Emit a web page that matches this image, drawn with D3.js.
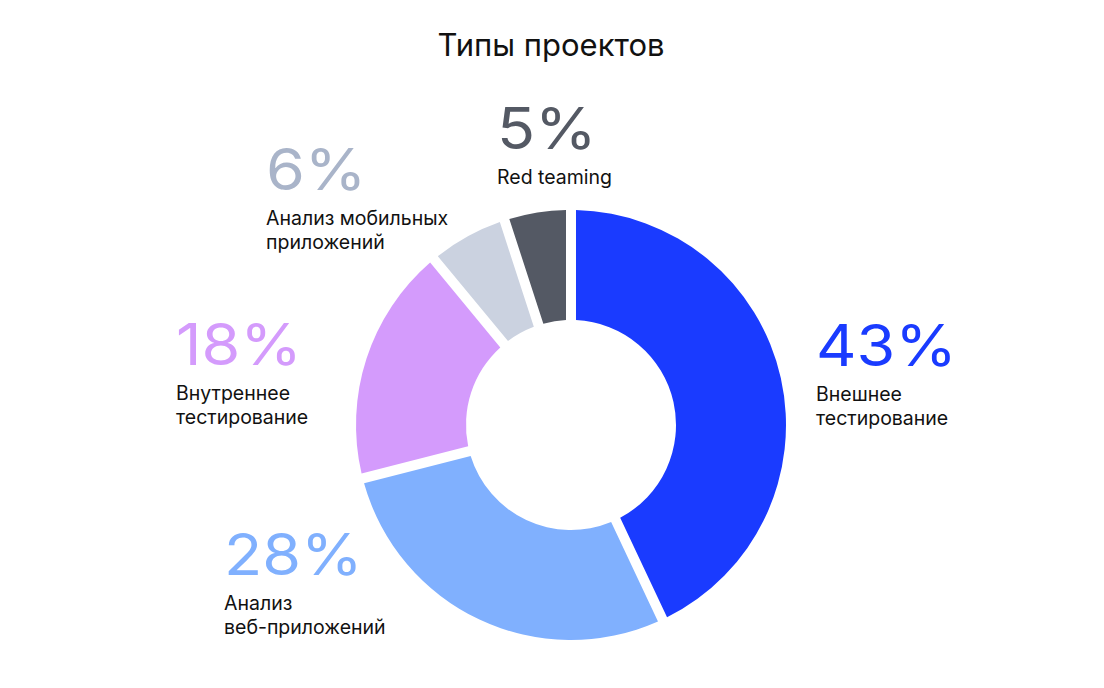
<!DOCTYPE html>
<html>
<head>
<meta charset="utf-8">
<script src="https://cdn.jsdelivr.net/npm/d3@7"></script>
<style>
  html, body { margin: 0; padding: 0; background: #ffffff; }
  svg { display: block; }
  text { font-family: Inter, "Noto Sans", sans-serif; }
</style>
</head>
<body>
<svg id="chart" width="1104" height="688"></svg>
<script>
const title = "Типы проектов";
const categories = ["Внешнее тестирование", "Анализ веб-приложений", "Внутреннее тестирование", "Анализ мобильных приложений", "Red teaming"];
const values = [43, 28, 18, 6, 5];
const labelLines = [
  ["Внешнее", "тестирование"],
  ["Анализ", "веб-приложений"],
  ["Внутреннее", "тестирование"],
  ["Анализ мобильных", "приложений"],
  ["Red teaming"]
];
const sliceColors = ["#1a3bff", "#80b0fe", "#d49bfc", "#cbd2e0", "#545964"];
const pctColors = ["#1a3bff", "#80b0fe", "#d49bfc", "#a9b4c9", "#545964"];
// label anchor positions (left x, percent baseline y)
const labelPos = [
  [816, 366],
  [224, 575],
  [176, 365],
  [266, 190],
  [497, 149]
];

const svg = d3.select("#chart");
const cx = 571, cy = 425, rOuter = 215, rInner = 105;

svg.append("text")
  .attr("x", 551).attr("y", 56)
  .attr("text-anchor", "middle")
  .attr("font-size", 31)
  .attr("font-weight", 400)
  .attr("fill", "#111111")
  .text(title);

const pie = d3.pie().sort(null).startAngle(0).endAngle(2 * Math.PI).value(d => d.value);
const arc = d3.arc().innerRadius(rInner).outerRadius(rOuter).padAngle(0.05).padRadius(200);

const data = categories.map((c, i) => ({ cat: c, value: values[i], i }));
const arcs = pie(data);

const g = svg.append("g").attr("transform", `translate(${cx},${cy})`);
g.selectAll("path").data(arcs).join("path")
  .attr("d", arc)
  .attr("fill", d => sliceColors[d.data.i]);

const labels = svg.selectAll("g.lbl").data(data).join("g").attr("class", "lbl")
  .attr("transform", d => `translate(${labelPos[d.i][0]},${labelPos[d.i][1]})`);

labels.append("text")
  .attr("x", 0).attr("y", 0)
  .attr("transform", "scale(1.1,1)")
  .attr("font-size", 57)
  .attr("font-weight", 400)
  .attr("fill", d => pctColors[d.i])
  .text(d => d.value + "%");

labels.each(function(d) {
  const sel = d3.select(this);
  labelLines[d.i].forEach((line, k) => {
    sel.append("text")
      .attr("x", 0)
      .attr("y", 35 + k * 24)
      .attr("font-size", 19.5)
      .attr("fill", "#111111")
      .text(line);
  });
});
</script>
</body>
</html>
